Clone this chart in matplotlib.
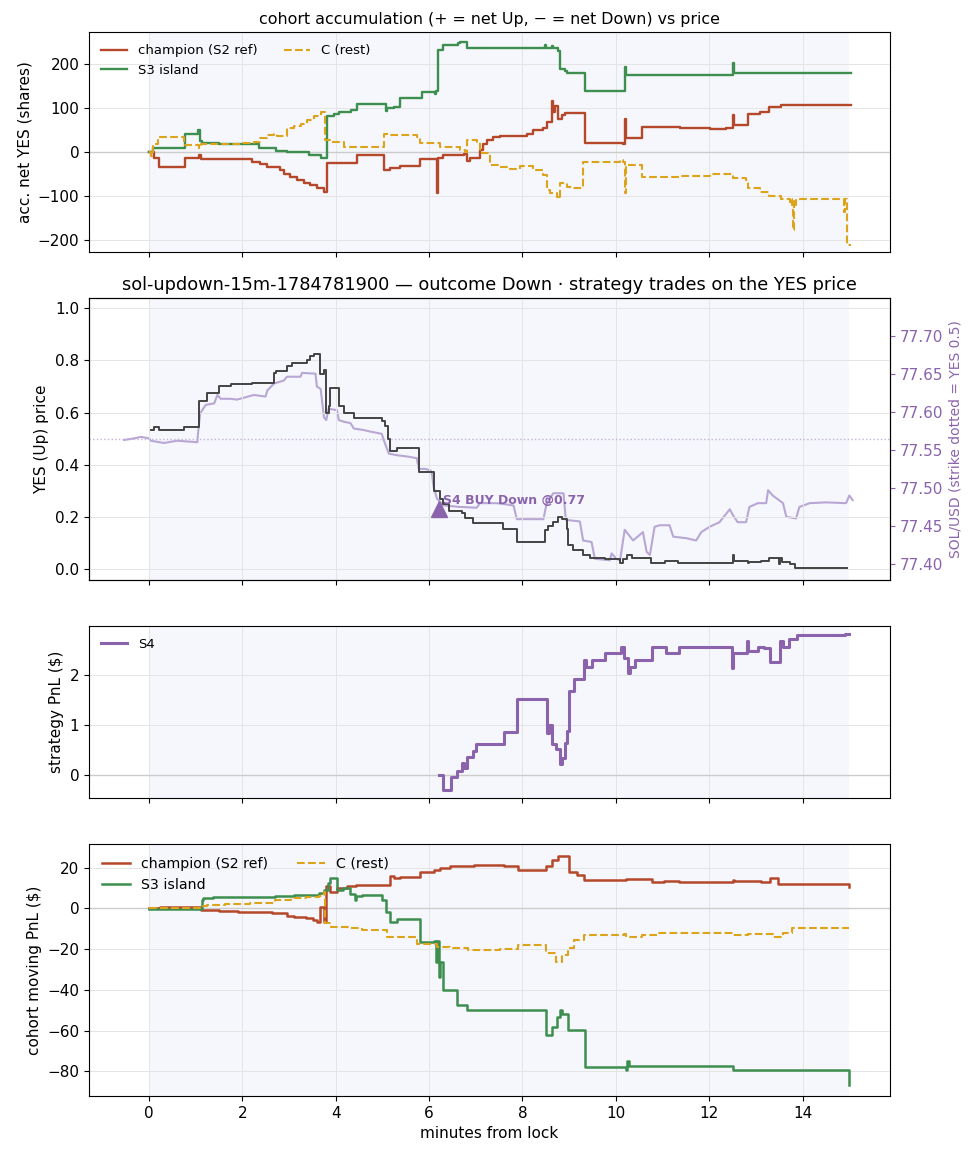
import matplotlib
matplotlib.use("Agg")
import matplotlib.pyplot as plt

# ---- panel 1: cohort accumulation (net YES shares) ----
champ_acc_t = [0, 0.11, 0.22, 0.77, 1.07, 1.11, 2.22, 2.39, 2.54, 2.82, 2.90, 3.03, 3.18, 3.32,
               3.46, 3.60, 3.75, 3.82, 4.46, 5.03, 5.17, 5.38, 5.81, 6.17, 6.20, 6.31, 6.74, 6.81,
               6.88, 7.09, 7.16, 7.24, 7.38, 7.52, 8.02, 8.10, 8.23, 8.45, 8.52, 8.63, 8.66, 8.70,
               8.77, 8.85, 8.91, 9.34, 10.16, 10.19, 10.22, 10.55, 11.37, 12.01, 12.36, 12.51,
               12.53, 12.83, 13.08, 13.29, 13.54, 15.03]
champ_acc_v = [0, -13, -34, -13, -6, -14, -21, -27, -34, -41, -50, -56, -62, -70,
               -75, -82, -90, -24, -5, -40, -35, -32, -14, -93, -12, -7, -3, -20,
               -12, 5, 20, 28, 35, 38, 37, 43, 51, 55, 70, 118, 92, 105,
               77, 85, 90, 22, 20, 77, 32, 58, 56, 54, 56, 85,
               63, 87, 92, 104, 108, 108]

s3_acc_t = [0, 0.08, 0.77, 1.05, 1.09, 1.15, 1.50, 2.22, 2.36, 2.73, 2.97, 3.43, 3.68, 3.82,
            3.96, 4.07, 4.32, 4.46, 5.03, 5.07, 5.10, 5.24, 5.38, 5.84, 6.13, 6.15, 6.20, 6.31,
            6.63, 6.67, 6.81, 8.48, 8.50, 8.63, 8.66, 8.77, 8.80, 8.91, 8.95, 9.34, 10.19, 10.22,
            12.51, 12.53, 15.03]
s3_acc_v = [0, 9, 43, 52, 26, 21, 20, 18, 11, 4, 0, -6, -13, 82,
            87, 91, 96, 111, 110, 94, 101, 104, 123, 138, 132, 140, 233, 245,
            248, 252, 237, 245, 237, 243, 237, 230, 190, 186, 181, 140, 195, 175,
            203, 180, 180]

c_acc_t = [0, 0.04, 0.08, 0.19, 0.76, 1.08, 1.11, 1.97, 2.25, 2.39, 2.54, 2.68, 2.75, 2.96,
           3.11, 3.25, 3.39, 3.53, 3.68, 3.78, 3.89, 4.17, 4.96, 5.03, 5.17, 5.74, 5.81, 6.24,
           6.67, 6.77, 6.81, 7.02, 7.09, 7.31, 7.52, 7.73, 7.95, 8.23, 8.45, 8.52, 8.59, 8.73,
           8.80, 8.81, 8.95, 9.09, 9.30, 10.08, 10.16, 10.19, 10.22, 10.55, 11.37, 12.01, 12.51,
           12.79, 12.83, 13.08, 13.29, 13.54, 13.72, 13.75, 13.77, 13.79, 13.81, 13.84, 13.86,
           14.89, 14.91, 14.93, 14.96, 15.03]
c_acc_v = [0, -8, 20, 36, 17, 9, 20, 22, 24, 32, 40, 43, 38, 55,
           59, 65, 74, 83, 91, 28, 24, 13, 13, 43, 40, 36, 21, 13,
           5, 1, 28, 24, -2, -29, -33, -37, -31, -40, -51, -86, -93, -101,
           -105, -70, -78, -80, -21, -17, -21, -93, -29, -56, -54, -49, -59,
           -63, -82, -89, -98, -105, -113, -105, -120, -177, -110, -120, -105,
           -135, -105, -105, -211, -211]

# ---- panel 2: YES price and SOL/USD ----
yes_t = [0.04, 0.11, 0.22, 0.76, 1.08, 1.25, 1.50, 1.75, 2.21, 2.68, 2.72, 2.96, 3.07, 3.39,
         3.46, 3.53, 3.66, 3.75, 3.80, 3.85, 3.89, 4.07, 4.17, 4.39, 4.99, 5.06, 5.13, 5.17,
         5.31, 5.78, 6.10, 6.24, 6.31, 6.42, 6.70, 6.77, 6.95, 7.59, 7.88, 8.48, 8.55, 8.66,
         8.77, 8.84, 8.96, 8.98, 9.09, 9.30, 9.44, 9.76, 10.09, 10.16, 10.23, 10.34, 10.76,
         11.05, 11.33, 12.51, 12.53, 12.83, 12.85, 13.11, 13.29, 13.50, 13.52, 13.56, 13.72,
         13.83, 14.96]
yes_p = [0.533, 0.545, 0.533, 0.545, 0.644, 0.676, 0.701, 0.708, 0.714, 0.752, 0.758, 0.778, 0.791, 0.803,
         0.816, 0.823, 0.746, 0.763, 0.599, 0.625, 0.695, 0.625, 0.599, 0.580, 0.567, 0.550, 0.497, 0.452,
         0.465, 0.372, 0.299, 0.267, 0.248, 0.222, 0.215, 0.197, 0.175, 0.152, 0.103, 0.149, 0.165, 0.180,
         0.200, 0.193, 0.152, 0.094, 0.075, 0.056, 0.043, 0.037, 0.022, 0.037, 0.056, 0.043, 0.022,
         0.033, 0.022, 0.056, 0.033, 0.022, 0.028, 0.030, 0.041, 0.018, 0.041, 0.028, 0.018,
         0.005, 0.005]

sol_t = [-0.53, -0.31, -0.17, 0.01, 0.04, 0.33, 0.61, 1.04, 1.05, 1.10, 1.22, 1.40, 1.47, 1.54,
         1.75, 1.89, 2.25, 2.50, 2.54, 2.68, 2.89, 2.96, 3.25, 3.28, 3.57, 3.60, 3.68, 3.75,
         3.80, 3.85, 4.03, 4.07, 4.17, 4.32, 4.39, 4.60, 4.74, 4.99, 5.03, 5.14, 5.31, 5.56,
         5.74, 5.78, 5.92, 6.03, 6.06, 6.10, 6.17, 6.31, 6.67, 7.02, 7.09, 7.45, 7.81, 7.88,
         8.45, 8.52, 8.66, 8.88, 8.93, 9.23, 9.30, 9.48, 9.55, 9.87, 9.91, 10.01, 10.09, 10.19,
         10.37, 10.58, 10.66, 10.73, 10.83, 10.94, 11.15, 11.23, 11.51, 11.72, 11.83, 12.01,
         12.22, 12.44, 12.51, 12.61, 12.79, 12.86, 13.04, 13.22, 13.26, 13.36, 13.58, 13.65,
         13.86, 13.93, 14.15, 14.50, 14.93, 15.00, 15.07]
sol_p = [77.563, 77.565, 77.567, 77.565, 77.562, 77.559, 77.562, 77.560, 77.569, 77.598, 77.609, 77.611, 77.622, 77.617,
         77.617, 77.616, 77.622, 77.620, 77.628, 77.637, 77.641, 77.646, 77.646, 77.651, 77.650, 77.633, 77.630, 77.593,
         77.589, 77.604, 77.602, 77.589, 77.587, 77.585, 77.578, 77.576, 77.574, 77.571, 77.563, 77.545, 77.543, 77.541,
         77.539, 77.525, 77.525, 77.523, 77.519, 77.501, 77.486, 77.477, 77.475, 77.474, 77.480, 77.480, 77.477, 77.459,
         77.459, 77.480, 77.493, 77.493, 77.458, 77.456, 77.431, 77.429, 77.407, 77.405, 77.414, 77.407, 77.405, 77.445,
         77.431, 77.442, 77.416, 77.412, 77.449, 77.451, 77.451, 77.436, 77.434, 77.431, 77.442, 77.449,
         77.455, 77.472, 77.464, 77.455, 77.455, 77.475, 77.480, 77.480, 77.497, 77.490, 77.480, 77.462,
         77.460, 77.475, 77.480, 77.481, 77.480, 77.490, 77.484]
strike_yes = 0.5
trade_t, trade_p = 6.22, 0.23
trade_label = "S4 BUY Down @0.77"

# ---- panel 3: S4 strategy PnL ----
s4_t = [6.21, 6.31, 6.47, 6.61, 6.71, 6.75, 6.81, 6.95, 7.00, 7.61, 7.88, 8.53, 8.56, 8.64, 8.71,
        8.80, 8.84, 8.91, 8.95, 9.00, 9.11, 9.31, 9.37, 9.48, 9.77, 10.11, 10.17, 10.27, 10.31,
        10.40, 10.77, 11.07, 11.35, 12.48, 12.50, 12.81, 12.83, 13.04, 13.17, 13.31, 13.51,
        13.57, 13.71, 13.88, 14.91, 15.00]
s4_pnl = [0, -0.29, -0.03, 0.09, 0.25, 0.15, 0.37, 0.48, 0.63, 0.87, 1.53, 0.85, 1.01, 0.62, 0.52,
          0.22, 0.35, 0.65, 0.88, 1.68, 1.93, 2.30, 2.17, 2.30, 2.45, 2.57, 2.34, 2.04, 2.17,
          2.30, 2.57, 2.45, 2.57, 2.14, 2.44, 2.69, 2.48, 2.57, 2.54, 2.27, 2.69,
          2.57, 2.72, 2.81, 2.83, 2.83]

# ---- panel 4: cohort moving PnL ----
champ_pnl_t = [0, 0.24, 1.11, 1.51, 1.91, 2.64, 2.97, 3.11, 3.37, 3.51, 3.61, 3.67, 3.75, 3.80,
               3.88, 4.04, 4.24, 4.44, 5.17, 5.24, 5.37, 5.80, 6.11, 6.24, 6.44, 6.97, 7.61, 7.91,
               8.51, 8.64, 8.77, 8.91, 9.00, 9.17, 9.31, 10.21, 10.77, 11.04, 11.35, 12.51, 12.54,
               12.84, 13.11, 13.31, 13.48, 15.00]
champ_pnl = [0, 0.8, -0.8, -1.1, -1.6, -2.5, -3.6, -4.4, -4.9, -5.7, -6.6, 0.5, -6.6, 10.7,
             8.2, 9.8, 10.7, 11.5, 15.6, 15.0, 15.2, 18.0, 18.9, 19.7, 20.5, 21.3, 20.5, 18.9,
             20.5, 23.8, 25.7, 25.4, 18.0, 16.4, 13.9, 14.3, 12.8, 13.4, 12.8, 14.0, 13.2,
             13.4, 13.1, 14.8, 11.8, 10.2]

s3_pnl_t = [0, 1.13, 1.16, 1.37, 1.77, 2.71, 3.11, 3.64, 3.75, 3.84, 3.88, 4.04, 4.15, 4.31,
            4.41, 4.44, 4.57, 5.00, 5.08, 5.17, 5.31, 5.80, 6.11, 6.14, 6.17, 6.21, 6.24, 6.31,
            6.61, 6.81, 8.51, 8.64, 8.75, 8.80, 8.84, 8.97, 9.33, 10.21, 10.24, 10.28, 12.51, 15.00]
s3_pnl = [-0.3, 4.1, 4.9, 5.4, 5.7, 6.1, 6.6, 7.4, 9.0, 12.3, 14.8, 9.0, 9.8, 7.0,
          4.1, 6.0, 6.6, 4.1, -1.6, -6.6, -5.4, -16.4, -15.9, -26.2, -16.0, -33.6, -26.2, -40.2,
          -47.5, -50.0, -62.3, -58.2, -53.3, -50.0, -51.6, -59.8, -77.9, -79.2, -74.9, -77.4, -79.2, -86.9]

c_pnl_t = [0, 1.11, 1.24, 1.64, 2.17, 2.71, 3.04, 3.37, 3.64, 3.75, 3.77, 3.91, 4.31, 4.57,
           5.11, 5.37, 5.75, 6.17, 6.44, 6.84, 7.51, 7.91, 8.51, 8.71, 8.84, 8.97, 9.11, 9.31,
           10.17, 10.21, 10.57, 10.91, 12.51, 12.84, 13.37, 13.57, 13.77, 15.00]
c_pnl = [0, 1.1, 1.6, 2.1, 2.5, 4.1, 4.9, 5.7, 6.1, 8.2, -7.4, -9.0, -9.8, -10.7,
         -13.9, -14.3, -17.5, -19.2, -19.7, -20.5, -20.0, -18.0, -22.1, -26.2, -23.0, -19.7, -15.6, -13.1,
         -12.8, -13.9, -13.1, -12.3, -13.1, -12.6, -13.9, -12.3, -9.8, -9.8]

C_CHAMP = "#b5482b"
C_S3 = "#3d8e4f"
C_REST = "#dca31b"
C_S4 = "#8b63ad"
C_SOL = "#b8a7d4"
BAND = "#f5f7fc"

plt.rcParams["font.size"] = 11

fig, axes = plt.subplots(4, 1, figsize=(9.78, 11.56), dpi=100, sharex=True,
                         gridspec_kw=dict(height_ratios=[220, 282, 172, 252]))
fig.subplots_adjust(left=0.091, right=0.910, top=0.972, bottom=0.052, hspace=0.199)
ax1, ax2, ax3, ax4 = axes

for ax in axes:
    if ax is not ax2:
        ax.axvspan(0, 15, color=BAND, zorder=0, lw=0)
    ax.grid(True, color="#e4e4e4", lw=0.7, zorder=0.5)
    ax.set_axisbelow(True)

# panel 1
ax1.axhline(0, color="#cccccc", lw=1, zorder=1)
ax1.plot(champ_acc_t, champ_acc_v, drawstyle="steps-post", color=C_CHAMP, lw=1.7, label="champion (S2 ref)")
ax1.plot(s3_acc_t, s3_acc_v, drawstyle="steps-post", color=C_S3, lw=1.7, label="S3 island")
ax1.plot(c_acc_t, c_acc_v, drawstyle="steps-post", color=C_REST, lw=1.5, ls="--", label="C (rest)")
ax1.set_ylim(-227, 273)
ax1.set_yticks([-200, -100, 0, 100, 200])
ax1.set_ylabel("acc. net YES (shares)")
ax1.set_title("cohort accumulation (+ = net Up, \u2212 = net Down) vs price", fontsize=11.4)
ax1.legend(loc="upper left", ncol=2, frameon=False, fontsize=9.5)

# panel 2: SOL on the twin axis, drawn underneath the YES axis
ax2r = ax2.twinx()
ax2r.axvspan(0, 15, color=BAND, zorder=0, lw=0)
ax2r.plot(sol_t, sol_p, color=C_SOL, lw=1.5, zorder=2)
ax2r.set_ylim(77.379, 77.749)
ax2r.set_yticks([77.40, 77.45, 77.50, 77.55, 77.60, 77.65, 77.70])
ax2r.tick_params(axis="y", colors=C_S4)
ax2r.set_ylabel("SOL/USD (strike dotted = YES 0.5)", color=C_S4, fontsize=10)
ax2.set_zorder(ax2r.get_zorder() + 1)
ax2.patch.set_visible(False)
ax2r.patch.set_facecolor("white")

ax2.axhline(strike_yes, color="#c3b0db", lw=1, ls=":", zorder=1)
ax2.plot(yes_t, yes_p, drawstyle="steps-post", color="#444444", lw=1.4, zorder=3)
ax2.plot(trade_t, trade_p, marker="^", ms=11, color=C_S4, zorder=5, ls="none")
ax2.text(trade_t + 0.08, 0.262, trade_label, color=C_S4, fontsize=9, fontweight="bold",
         va="center", ha="left", zorder=6)
ax2.set_ylim(-0.042, 1.038)
ax2.set_yticks([0.0, 0.2, 0.4, 0.6, 0.8, 1.0])
ax2.set_ylabel("YES (Up) price")
ax2.set_title("sol-updown-15m-1784781900 \u2014 outcome Down \u00b7 strategy trades on the YES price", fontsize=12.8)

# panel 3
ax3.axhline(0, color="#cccccc", lw=1, zorder=1)
ax3.plot(s4_t, s4_pnl, drawstyle="steps-post", color=C_S4, lw=2.2, label="S4")
ax3.set_ylim(-0.45, 2.98)
ax3.set_yticks([0, 1, 2])
ax3.set_ylabel("strategy PnL ($)")
ax3.legend(loc="upper left", frameon=False, fontsize=9.5)

# panel 4
ax4.axhline(0, color="#cccccc", lw=1, zorder=1)
ax4.plot(champ_pnl_t, champ_pnl, drawstyle="steps-post", color=C_CHAMP, lw=1.8, label="champion (S2 ref)")
ax4.plot(s3_pnl_t, s3_pnl, drawstyle="steps-post", color=C_S3, lw=1.8, label="S3 island")
ax4.plot(c_pnl_t, c_pnl, drawstyle="steps-post", color=C_REST, lw=1.5, ls="--", label="C (rest)")
ax4.set_ylim(-92, 31.5)
ax4.set_yticks([-80, -60, -40, -20, 0, 20])
ax4.set_ylabel("cohort moving PnL ($)")
ax4.legend(loc="upper left", ncol=2, frameon=False, fontsize=10.2)

ax4.set_xlim(-1.28, 15.87)
ax4.set_xticks([0, 2, 4, 6, 8, 10, 12, 14])
ax4.set_xlabel("minutes from lock")

fig.savefig("out.png", dpi=100)
